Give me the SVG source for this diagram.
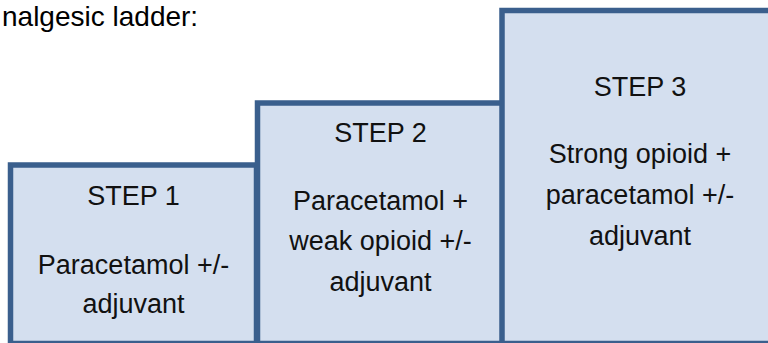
<svg xmlns="http://www.w3.org/2000/svg" width="768" height="343" viewBox="0 0 768 343">
  <style>
    .step { fill: #d4dfef; stroke: #3a5f8d; stroke-width: 5.5; }
    .lbl { font-family: "Liberation Sans", Arial, sans-serif; font-size: 27px; fill: #111111; text-anchor: middle; }
    .title { font-family: "Liberation Sans", Arial, sans-serif; font-size: 28px; fill: #000000; }
  </style>
  <rect width="768" height="343" fill="#ffffff"/>
  <text class="title" x="2" y="26">nalgesic ladder:</text>
  <g id="step1">
    <rect class="step" x="10.5" y="165" width="246" height="178.5"/>
    <text class="lbl" x="133.5" y="205">STEP 1</text>
    <text class="lbl" x="133.5" y="274">Paracetamol +/-</text>
    <text class="lbl" x="133.5" y="313">adjuvant</text>
  </g>
  <g id="step2">
    <rect class="step" x="257.5" y="103" width="247" height="240.5"/>
    <text class="lbl" x="380.5" y="142">STEP 2</text>
    <text class="lbl" x="380.5" y="210">Paracetamol +</text>
    <text class="lbl" x="380.5" y="250">weak opioid +/-</text>
    <text class="lbl" x="380.5" y="291">adjuvant</text>
  </g>
  <g id="step3">
    <rect class="step" x="502" y="10.5" width="290" height="333"/>
    <text class="lbl" x="640" y="96">STEP 3</text>
    <text class="lbl" x="640" y="163">Strong opioid +</text>
    <text class="lbl" x="640" y="204">paracetamol +/-</text>
    <text class="lbl" x="640" y="245">adjuvant</text>
  </g>
</svg>
